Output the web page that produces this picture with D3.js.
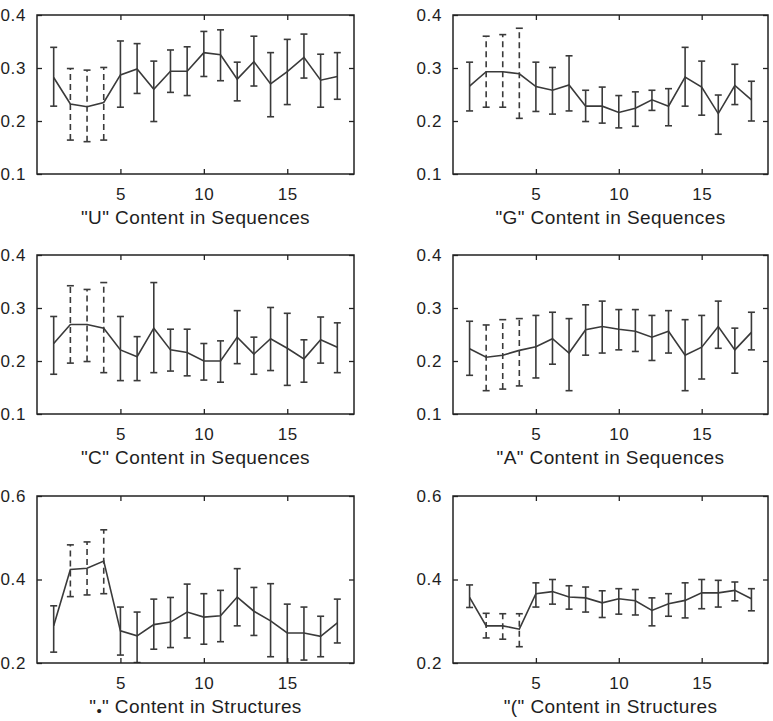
<!DOCTYPE html>
<html><head><meta charset="utf-8">
<script src="https://cdn.jsdelivr.net/npm/d3@7"></script>
<style>
body{margin:0;background:#fff}
svg text{font-family:Arial,"Liberation Sans",Helvetica,sans-serif;fill:#1e1e1e}
</style>
</head><body>
<svg id="chart" width="773" height="721"></svg>
<script>
// ---------- data ----------
const positions = [1,2,3,4,5,6,7,8,9,10,11,12,13,14,15,16,17,18];
const dashedPositions = [2,3,4];
const xTickValues = [5,10,15];
const seqYTicks = [0.1,0.2,0.3,0.4];
const strYTicks = [0.2,0.4,0.6];
const seqYDomain = [0.1,0.4];
const strYDomain = [0.2,0.6];
const xDomain = [0,19];

const titles = ['"U" Content in Sequences','"G" Content in Sequences','"C" Content in Sequences','"A" Content in Sequences','"•" Content in Structures','"(" Content in Structures'];

const uMean  = [0.282,0.232,0.227,0.235,0.287,0.298,0.260,0.294,0.294,0.329,0.325,0.279,0.312,0.270,0.293,0.320,0.277,0.284];
const uUpper = [0.339,0.299,0.296,0.301,0.351,0.346,0.313,0.334,0.340,0.369,0.372,0.311,0.360,0.329,0.354,0.364,0.326,0.329];
const uLower = [0.228,0.164,0.161,0.164,0.226,0.252,0.199,0.254,0.248,0.284,0.276,0.238,0.266,0.208,0.231,0.281,0.226,0.241];

const gMean  = [0.266,0.293,0.293,0.289,0.265,0.258,0.268,0.228,0.228,0.216,0.224,0.240,0.228,0.283,0.264,0.214,0.267,0.240];
const gUpper = [0.311,0.360,0.363,0.375,0.311,0.301,0.323,0.258,0.264,0.248,0.255,0.258,0.261,0.339,0.313,0.249,0.307,0.275];
const gLower = [0.219,0.226,0.226,0.205,0.218,0.213,0.219,0.199,0.196,0.187,0.190,0.220,0.191,0.228,0.211,0.175,0.231,0.200];

const cMean  = [0.233,0.269,0.269,0.262,0.221,0.208,0.262,0.221,0.216,0.200,0.200,0.245,0.213,0.242,0.224,0.204,0.240,0.226];
const cUpper = [0.284,0.342,0.335,0.348,0.284,0.246,0.348,0.260,0.260,0.233,0.238,0.295,0.245,0.301,0.290,0.240,0.283,0.272];
const cLower = [0.175,0.196,0.199,0.178,0.163,0.163,0.178,0.181,0.172,0.164,0.160,0.195,0.175,0.182,0.154,0.160,0.196,0.178];

const aMean  = [0.223,0.207,0.211,0.220,0.227,0.242,0.215,0.259,0.265,0.260,0.256,0.245,0.256,0.211,0.226,0.265,0.221,0.254];
const aUpper = [0.275,0.268,0.278,0.280,0.286,0.292,0.280,0.306,0.313,0.297,0.297,0.286,0.295,0.278,0.286,0.313,0.262,0.292];
const aLower = [0.173,0.144,0.147,0.153,0.168,0.194,0.144,0.211,0.215,0.221,0.218,0.201,0.215,0.144,0.166,0.224,0.177,0.221];

const dotMean  = [0.289,0.424,0.427,0.444,0.277,0.265,0.292,0.298,0.322,0.310,0.313,0.358,0.324,0.301,0.272,0.272,0.264,0.296];
const dotUpper = [0.337,0.483,0.490,0.519,0.334,0.322,0.353,0.357,0.389,0.366,0.374,0.426,0.381,0.390,0.341,0.334,0.312,0.353];
const dotLower = [0.226,0.359,0.363,0.366,0.219,0.201,0.233,0.237,0.260,0.245,0.251,0.289,0.266,0.215,0.197,0.207,0.215,0.248];

const parMean  = [0.357,0.289,0.289,0.281,0.366,0.371,0.358,0.356,0.344,0.354,0.349,0.326,0.342,0.350,0.368,0.368,0.374,0.354];
const parUpper = [0.387,0.319,0.318,0.318,0.392,0.400,0.385,0.382,0.373,0.378,0.376,0.356,0.366,0.392,0.400,0.398,0.394,0.378];
const parLower = [0.333,0.260,0.257,0.239,0.334,0.341,0.329,0.322,0.309,0.317,0.315,0.289,0.312,0.308,0.330,0.334,0.349,0.325];

// ---------- layout ----------
const svg = d3.select("#chart");
const ink = "#3a3a3a";
const panels = [
  {mean:uMean,  up:uUpper,  lo:uLower,  title:titles[0], yd:seqYDomain, yt:seqYTicks, box:[37,354,15,174]},
  {mean:gMean,  up:gUpper,  lo:gLower,  title:titles[1], yd:seqYDomain, yt:seqYTicks, box:[453,768,15,174]},
  {mean:cMean,  up:cUpper,  lo:cLower,  title:titles[2], yd:seqYDomain, yt:seqYTicks, box:[37,354,255,414]},
  {mean:aMean,  up:aUpper,  lo:aLower,  title:titles[3], yd:seqYDomain, yt:seqYTicks, box:[453,768,255,414]},
  {mean:dotMean,up:dotUpper,lo:dotLower,title:titles[4], yd:strYDomain, yt:strYTicks, box:[37,354,496,663], dot:true},
  {mean:parMean,up:parUpper,lo:parLower,title:titles[5], yd:strYDomain, yt:strYTicks, box:[453,768,496,663]}
];

panels.forEach((p,i)=>{
  const [x0,x1,y0,y1] = p.box;
  const x = d3.scaleLinear().domain(xDomain).range([x0,x1]);
  const y = d3.scaleLinear().domain(p.yd).range([y1,y0]);
  const g = svg.append("g");

  const clipId = "clip"+i;
  svg.append("clipPath").attr("id",clipId).append("rect")
    .attr("x",x0).attr("y",y0).attr("width",x1-x0).attr("height",y1-y0);

  const data = positions.map((pos,k)=>({pos, m:p.mean[k], u:p.up[k], l:p.lo[k], dashed:dashedPositions.includes(pos)}));
  const plot = g.append("g").attr("clip-path",`url(#${clipId})`);

  // error bars
  const eb = plot.selectAll(".eb").data(data).join("g").attr("class","eb")
    .attr("stroke",ink).attr("stroke-width",1.6).attr("fill","none");
  eb.append("line")
    .attr("x1",d=>x(d.pos)).attr("x2",d=>x(d.pos))
    .attr("y1",d=>y(d.l)).attr("y2",d=>y(d.u))
    .attr("stroke-dasharray",d=>d.dashed?"6,4":null);
  eb.append("line").attr("x1",d=>x(d.pos)-3.5).attr("x2",d=>x(d.pos)+3.5)
    .attr("y1",d=>y(d.u)).attr("y2",d=>y(d.u));
  eb.append("line").attr("x1",d=>x(d.pos)-3.5).attr("x2",d=>x(d.pos)+3.5)
    .attr("y1",d=>y(d.l)).attr("y2",d=>y(d.l));

  // mean line
  plot.append("path").datum(data)
    .attr("fill","none").attr("stroke",ink).attr("stroke-width",1.6)
    .attr("d",d3.line().x(d=>x(d.pos)).y(d=>y(d.m)));

  // axes (inside ticks on all sides)
  const fmt = d3.format(".1f");
  const axB = g.append("g").attr("transform",`translate(0,${y1})`)
    .call(d3.axisBottom(x).tickValues(xTickValues).tickSize(-5).tickPadding(13.5));
  const axT = g.append("g").attr("transform",`translate(0,${y0})`)
    .call(d3.axisTop(x).tickValues(xTickValues).tickSize(-5).tickFormat(""));
  const axL = g.append("g").attr("transform",`translate(${x0},0)`)
    .call(d3.axisLeft(y).tickValues(p.yt).tickSize(-5).tickPadding(11).tickFormat(fmt));
  const axR = g.append("g").attr("transform",`translate(${x1},0)`)
    .call(d3.axisRight(y).tickValues(p.yt).tickSize(-5).tickFormat(""));
  [axB,axT,axL,axR].forEach(a=>{
    a.select(".domain").remove();
    a.selectAll("line").attr("stroke","#222").attr("stroke-width",1.3);
    a.selectAll("text").attr("font-size",17).attr("fill","#1e1e1e")
      .attr("letter-spacing","0.6px")
      .attr("font-family",'Arial,"Liberation Sans",sans-serif');
  });

  g.append("rect").attr("x",x0).attr("y",y0).attr("width",x1-x0).attr("height",y1-y0)
    .attr("fill","none").attr("stroke","#222").attr("stroke-width",1.5);

  // x-axis title
  const t = g.append("text").attr("x",(x0+x1)/2).attr("y",y1+50)
    .attr("text-anchor","middle").attr("font-size",19).attr("letter-spacing","0.4px");
  if(p.dot){
    const parts = p.title.split("•");
    t.append("tspan").text(parts[0]);
    t.append("tspan").attr("font-size",15).attr("dy",3).text("•");
    t.append("tspan").attr("dy",-3).text(parts[1]);
  } else {
    t.text(p.title);
  }
});
</script>
</body></html>
